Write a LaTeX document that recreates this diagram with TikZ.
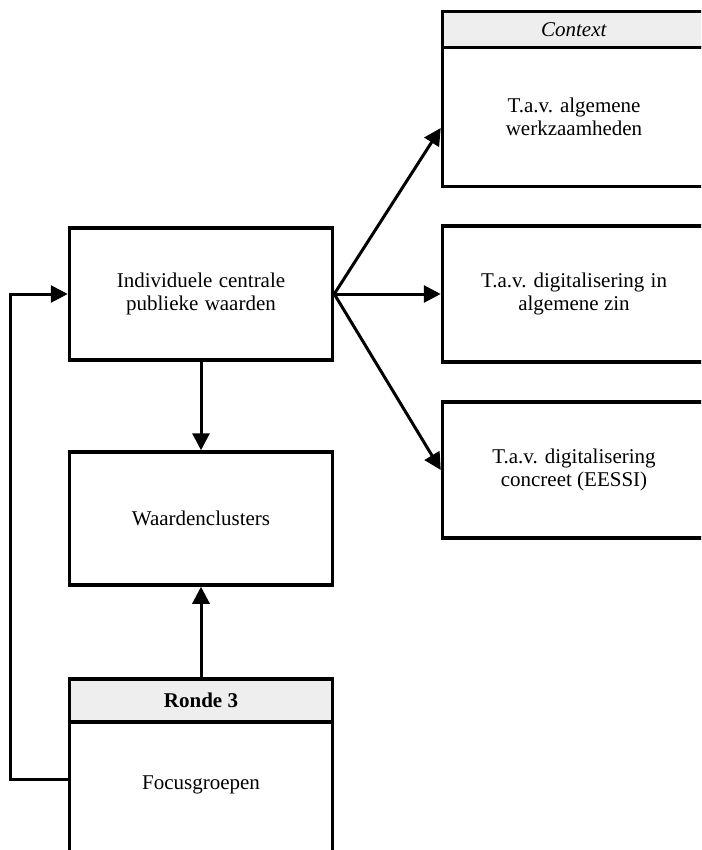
\documentclass[tikz,border=0pt]{standalone}
\usepackage{fontspec}
\setmainfont{Liberation Serif}
\usetikzlibrary{arrows.meta,calc}
\definecolor{hdgray}{RGB}{238,238,238}
\begin{document}
\begin{tikzpicture}[x=1pt,y=-1pt,
  box/.style={draw, line width=3.5pt, rectangle, inner sep=0pt, align=center,
    font=\fontsize{21}{23.5}\selectfont, minimum width=263pt, fill=white},
  hdr/.style={box, fill=hdgray},
  txt/.style={inner sep=0pt, align=center, font=\fontsize{21}{23.5}\selectfont},
  conn/.style={line width=3pt, -{Triangle[length=17pt,width=17pt]}}
]
\useasboundingbox (0,0) rectangle (701,850);
\clip (0,0) rectangle (701,850);

% left column
\node[box, minimum height=132pt] (ind) at (201,294)
  {Individuele\hspace{0.3em}centrale\\publieke\hspace{0.3em}waarden};
\node[box, minimum height=133pt] (wc) at (201,518.5) {Waardenclusters};
\node[hdr, minimum height=43pt] (ronhd) at (201,700.5) {\textbf{Ronde 3}};
\node[box, minimum height=160pt] (ronbd) at (201,802) {};
\node[txt] (foc) at (201,785) {Focusgroepen};

% right column
\node[hdr, minimum height=36pt] (ctxhd) at (574,29.5) {\textit{Context}};
\node[box, minimum height=139pt] (ctxbd) at (574,117)
  {T.a.v. algemene\\werkzaamheden};
\node[box, minimum height=136pt] (b2) at (574,294)
  {T.a.v. digitalisering\hspace{0.3em}in\\algemene zin};
\node[box, minimum height=136pt] (b3) at (574,470)
  {T.a.v. digitalisering\\concreet (EESSI)};

% connectors
\draw[conn] (ind.south) -- (wc.north);
\draw[conn] (ronhd.north) -- (wc.south);
\draw[conn] (ind.east) -- ([yshift=-11pt]ctxbd.west);
\draw[conn] (ind.east) -- (b2.west);
\draw[conn] (ind.east) -- (b3.west);
\draw[conn] ([yshift=23pt]ronbd.west) -- ++(-57,0) |- (ind.west);
\end{tikzpicture}
\end{document}
